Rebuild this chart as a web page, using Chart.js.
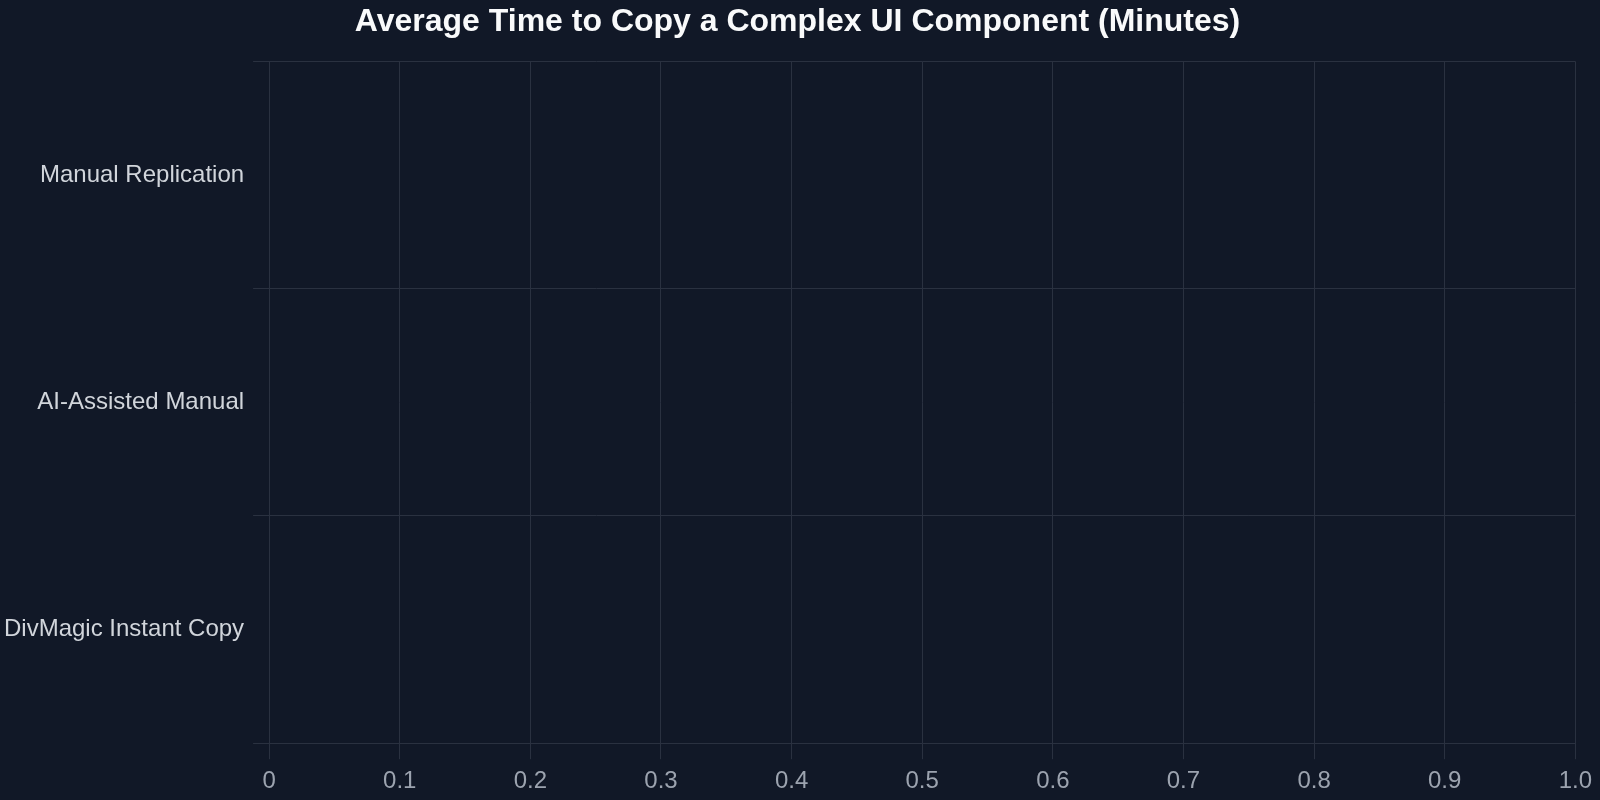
<!DOCTYPE html>
<html>
<head>
<meta charset="utf-8">
<script src="https://cdn.jsdelivr.net/npm/chart.js@4"></script>
<style>
    html, body { margin:0; padding:0; background:#111827; }
    #wrap { width:1600px; height:800px; }
</style>
</head>
<body>
<div id="wrap"><canvas id="grafica"></canvas></div>
<script>
// ── DATOS ─────────────────────────────────────────────
const categorias = ['Manual Replication', 'AI-Assisted Manual', 'DivMagic Instant Copy'];
// no bars are drawn in the reference, so the values are empty
const minutos = [null, null, null];
const colores = ['#ef4444', '#f59e0b', '#22c55e'];

const gridColor = '#2a3140';
const fuente = '"Liberation Sans", Helvetica, Arial, sans-serif';

new Chart(document.getElementById('grafica'), {
    type: 'bar',
    data: {
        labels: categorias,
        datasets: [{
            label: 'Minutes',
            data: minutos,
            backgroundColor: colores,
            borderWidth: 0
        }]
    },
    options: {
        indexAxis: 'y',
        responsive: true,
        maintainAspectRatio: false,
        animation: false,
        layout: { padding: { left: -5, right: 0, top: 0, bottom: -4 } },
        plugins: {
            legend: { display: false },
            title: {
                display: true,
                text: 'Average Time to Copy a Complex UI Component (Minutes)',
                color: '#f9fafb',
                font: { family: fuente, size: 32, weight: 'bold' },
                padding: { top: 3, bottom: 20 }
            }
        },
        scales: {
            x: {
                beginAtZero: true,
                grid: { color: gridColor, tickLength: 16 },
                border: { color: gridColor },
                ticks: {
                    color: '#9ca3af',
                    padding: 8,
                    font: { family: fuente, size: 24 }
                }
            },
            y: {
                grid: { color: gridColor, tickLength: 16 },
                border: { color: gridColor },
                ticks: {
                    color: '#d1d5db',
                    padding: 9,
                    font: { family: fuente, size: 24 }
                }
            }
        }
    }
});
</script>
</body>
</html>
